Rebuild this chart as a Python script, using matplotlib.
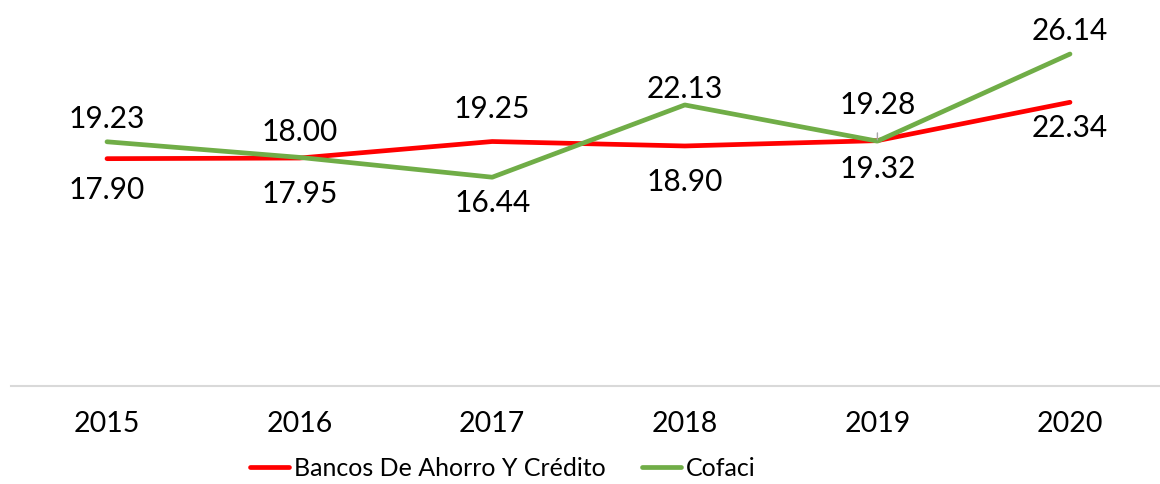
import matplotlib
matplotlib.use('Agg')
import matplotlib.pyplot as plt

plt.rcParams['font.family'] = ['Lato', 'DejaVu Sans']

years = ['2015', '2016', '2017', '2018', '2019', '2020']
bancos = [17.90, 17.95, 19.25, 18.90, 19.32, 22.34]
cofaci = [19.23, 18.00, 16.44, 22.13, 19.28, 26.14]

# label offsets (points, vertical) picked to sit like the original
off_bancos = [-22, -25, 24, -25, -20, -18]
off_cofaci = [17, 19, -18, 12, 27, 17]

fig = plt.figure(figsize=(11.6, 4.85), dpi=100)
ax = fig.add_axes([10.7 / 1160, 98 / 485, 1155.6 / 1160, 381 / 485])

x = range(len(years))
ax.plot(x, bancos, color='#FF0000', lw=3.4, solid_capstyle='round',
        label='Bancos De Ahorro Y Crédito', zorder=3)
ax.plot(x, cofaci, color='#70AD47', lw=3.4, solid_capstyle='round',
        label='Cofaci', zorder=3)

for i in x:
    ax.annotate(f'{bancos[i]:.2f}', (i, bancos[i]), xytext=(0, off_bancos[i]),
                textcoords='offset points', ha='center', va='center',
                fontsize=21.5, color='#000000')
    props = None
    if i == 4:
        props = dict(arrowstyle='-', color='#A6A6A6', lw=1, shrinkA=9, shrinkB=1)
    ax.annotate(f'{cofaci[i]:.2f}', (i, cofaci[i]), xytext=(0, off_cofaci[i]),
                textcoords='offset points', ha='center', va='center',
                fontsize=21.5, color='#000000', arrowprops=props)

ax.set_xlim(-0.5, len(years) - 0.5)
ax.set_ylim(0, 30)
ax.set_xticks(list(x))
ax.set_xticklabels(years, fontsize=20.5)
ax.set_yticks([])
ax.tick_params(axis='x', length=0, pad=17.5, labelcolor='#000000')
for s in ['top', 'right', 'left']:
    ax.spines[s].set_visible(False)
ax.spines['bottom'].set_color('#D9D9D9')
ax.spines['bottom'].set_linewidth(1.5)

fig.legend(loc='center', bbox_to_anchor=(503 / 1160, 16 / 485), ncol=2,
           frameon=False, fontsize=18, handlelength=1.55, handletextpad=0.2,
           columnspacing=1.45, borderpad=0)

fig.savefig('out.png', dpi=100)
